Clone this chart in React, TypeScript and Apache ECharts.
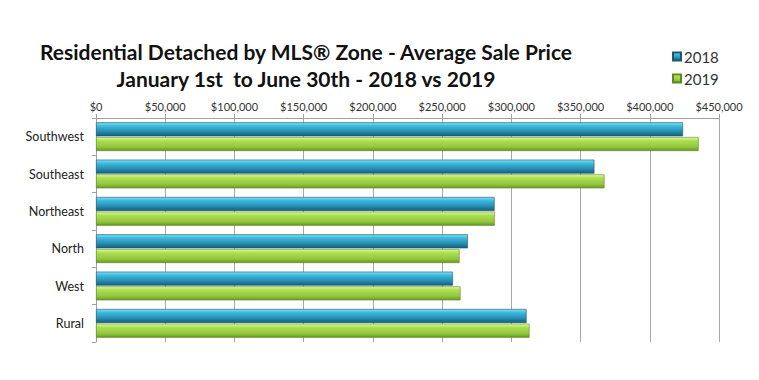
import React, { useEffect, useRef } from "react";
import * as echarts from "echarts";

const categories = ["Southwest", "Southeast", "Northeast", "North", "West", "Rural"];
const values2018 = [424000, 360000, 287900, 268600, 257800, 311000];
const values2019 = [435300, 367300, 288000, 262600, 263300, 313100];
const seriesNames = ["2018", "2019"];
const titleLines = [
  "Residential Detached by MLS® Zone - Average Sale Price",
  "January 1st  to June 30th - 2018 vs 2019",
];

const fmt = (v: number) => "$" + v.toLocaleString("en-US");

export default function App() {
  const ref = useRef<HTMLDivElement>(null);
  useEffect(() => {
    if (!ref.current) return;
    const chart = echarts.init(ref.current, null, { renderer: "svg" });
    const blue = new echarts.graphic.LinearGradient(0, 0, 0, 1, [
      { offset: 0, color: "#7fe0f5" },
      { offset: 0.25, color: "#3fb9dc" },
      { offset: 0.65, color: "#2590b4" },
      { offset: 1, color: "#175f78" },
    ]);
    const green = new echarts.graphic.LinearGradient(0, 0, 0, 1, [
      { offset: 0, color: "#e0f7a8" },
      { offset: 0.25, color: "#ace050" },
      { offset: 0.7, color: "#94c83e" },
      { offset: 1, color: "#6a9628" },
    ]);
    chart.setOption({
      animation: false,
      backgroundColor: "#ffffff",
      title: {
        text: titleLines.join("\n"),
        left: 301,
        textAlign: "center",
        top: 33,
        textStyle: {
          fontFamily: "Lato",
          fontWeight: "bold",
          fontSize: 21,
          lineHeight: 27,
          color: "#111",
        },
      },
      legend: {
        orient: "vertical",
        left: 667,
        top: 44,
        itemWidth: 8,
        itemHeight: 8,
        itemGap: 7,
        icon: "rect",
        data: seriesNames,
        textStyle: { fontFamily: "Lato", fontSize: 15, color: "#333", padding: [0, 0, 0, -2] },
      },
      grid: { left: 96, right: 40, top: 118, bottom: 38, containLabel: false },
      xAxis: {
        type: "value",
        position: "top",
        min: 0,
        max: 450000,
        interval: 50000,
        axisLine: { show: true, lineStyle: { color: "#a0a0a0" } },
        axisTick: { show: true, length: 4, lineStyle: { color: "#a0a0a0" } },
        axisLabel: {
          formatter: fmt,
          fontFamily: "Lato",
          fontSize: 11,
          color: "#333",
          margin: 6,
        },
        splitLine: { show: true, lineStyle: { color: "#a8a8a8" } },
      },
      yAxis: {
        type: "category",
        inverse: true,
        data: categories,
        axisLine: { show: true, lineStyle: { color: "#a0a0a0" } },
        axisTick: { show: true, length: 4, lineStyle: { color: "#a0a0a0" } },
        axisLabel: { fontFamily: "Lato", fontSize: 12.5, color: "#222", margin: 12 },
      },
      series: [
        {
          name: seriesNames[0],
          type: "bar",
          data: values2018,
          barWidth: 14,
          barGap: "5%",
          itemStyle: { color: blue, borderColor: "#1a5a70", borderWidth: 0.6 },
        },
        {
          name: seriesNames[1],
          type: "bar",
          data: values2019,
          barWidth: 14,
          itemStyle: { color: green, borderColor: "#5e8a22", borderWidth: 0.6 },
        },
      ],
    });
    return () => chart.dispose();
  }, []);
  return (
    <div
      ref={ref}
      style={{ position: "fixed", left: 0, top: 0, width: 759, height: 380 }}
    />
  );
}
